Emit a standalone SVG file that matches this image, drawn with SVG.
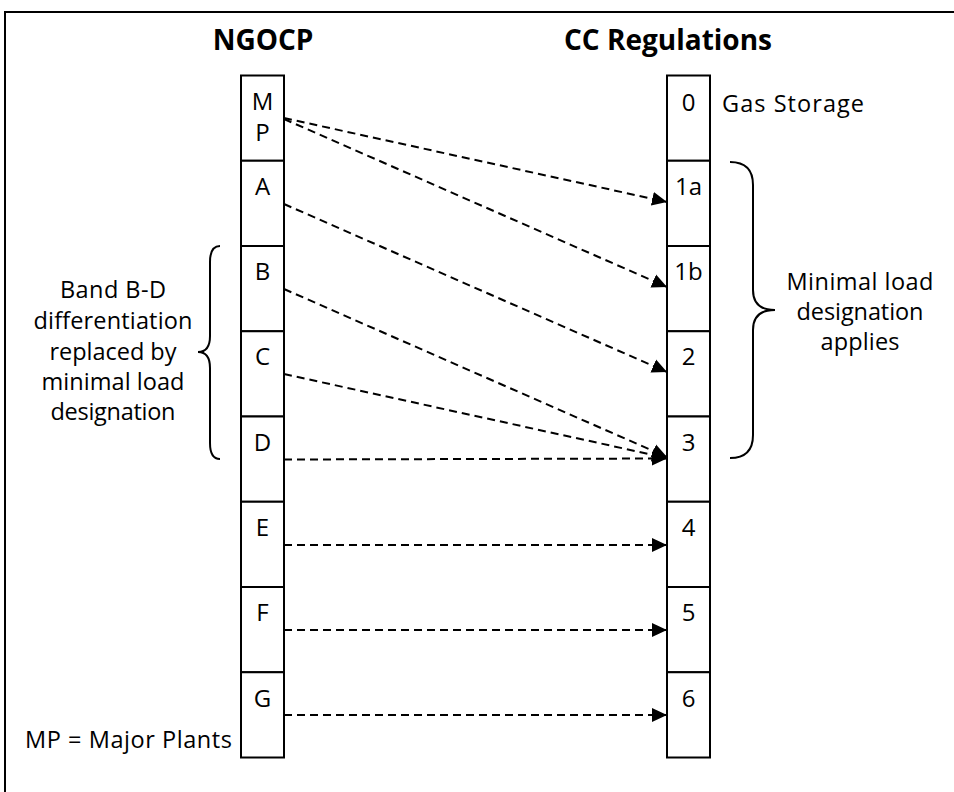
<svg xmlns="http://www.w3.org/2000/svg" width="954" height="792" viewBox="0 0 954 792">
<style>
text{font-family:"Open Sans","Noto Sans","Liberation Sans",sans-serif;fill:#000}
.title{font-size:28px;font-weight:bold;text-anchor:middle}
.lbl{font-size:24px;text-anchor:middle}
.note{font-size:23.5px}
.mid{text-anchor:middle}
.box{fill:#fff;stroke:#000;stroke-width:2}
.conn{fill:none;stroke:#000;stroke-width:2;stroke-dasharray:8 5}
.brace{fill:none;stroke:#000;stroke-width:2}
</style>
<defs>
<marker id="arr" markerUnits="userSpaceOnUse" markerWidth="16" markerHeight="16" viewBox="0 0 16 16" refX="15" refY="8" orient="auto">
<path d="M0,1 L15,8 L0,15 Z" fill="#000"/>
</marker>
</defs>
<rect x="0" y="0" width="954" height="792" fill="#fff"/>
<rect x="5" y="12" width="980" height="820" fill="none" stroke="#000" stroke-width="2"/>
<text class="title" x="263" y="50">NGOCP</text>
<text class="title" x="668" y="50">CC Regulations</text>
<g id="ngocp">
<g id="n-mp"><rect class="box" x="241" y="75.5" width="43" height="85.25"/><text class="lbl"><tspan x="262.5" y="110">M</tspan><tspan x="262.5" y="141">P</tspan></text></g>
<g id="n-a"><rect class="box" x="241" y="160.75" width="43" height="85.25"/><text class="lbl" x="262.5" y="195">A</text></g>
<g id="n-b"><rect class="box" x="241" y="246" width="43" height="85.25"/><text class="lbl" x="262.5" y="280">B</text></g>
<g id="n-c"><rect class="box" x="241" y="331.25" width="43" height="85.25"/><text class="lbl" x="262.5" y="365">C</text></g>
<g id="n-d"><rect class="box" x="241" y="416.5" width="43" height="85.25"/><text class="lbl" x="262.5" y="451">D</text></g>
<g id="n-e"><rect class="box" x="241" y="501.75" width="43" height="85.25"/><text class="lbl" x="262.5" y="536">E</text></g>
<g id="n-f"><rect class="box" x="241" y="587" width="43" height="85.25"/><text class="lbl" x="262.5" y="621">F</text></g>
<g id="n-g"><rect class="box" x="241" y="672.25" width="43" height="85.25"/><text class="lbl" x="262.5" y="707">G</text></g>
</g>
<g id="cc">
<g id="c-0"><rect class="box" x="667" y="75.5" width="43" height="85.25"/><text class="lbl" x="688.5" y="111">0</text></g>
<g id="c-1a"><rect class="box" x="667" y="160.75" width="43" height="85.25"/><text class="lbl" x="688.5" y="195">1a</text></g>
<g id="c-1b"><rect class="box" x="667" y="246" width="43" height="85.25"/><text class="lbl" x="688.5" y="280">1b</text></g>
<g id="c-2"><rect class="box" x="667" y="331.25" width="43" height="85.25"/><text class="lbl" x="688.5" y="365">2</text></g>
<g id="c-3"><rect class="box" x="667" y="416.5" width="43" height="85.25"/><text class="lbl" x="688.5" y="451">3</text></g>
<g id="c-4"><rect class="box" x="667" y="501.75" width="43" height="85.25"/><text class="lbl" x="688.5" y="536">4</text></g>
<g id="c-5"><rect class="box" x="667" y="587" width="43" height="85.25"/><text class="lbl" x="688.5" y="621">5</text></g>
<g id="c-6"><rect class="box" x="667" y="672.25" width="43" height="85.25"/><text class="lbl" x="688.5" y="707">6</text></g>
</g>
<g id="connectors">
<path class="conn" marker-end="url(#arr)" d="M284,118 L667,202"/>
<path class="conn" marker-end="url(#arr)" d="M284,119 L667,287"/>
<path class="conn" marker-end="url(#arr)" d="M284,204 L667,372"/>
<path class="conn" marker-end="url(#arr)" d="M284,289 L667,457"/>
<path class="conn" marker-end="url(#arr)" d="M284,374 L667,458"/>
<path class="conn" marker-end="url(#arr)" d="M284,459.5 L667,458.5"/>
<path class="conn" marker-end="url(#arr)" d="M284,545 L667,545"/>
<path class="conn" marker-end="url(#arr)" d="M284,630 L667,630"/>
<path class="conn" marker-end="url(#arr)" d="M284,715 L667,715"/>
</g>
<g id="brace-left">
<path class="brace" d="M220,246 Q210,246 210,262 L210,336 Q210,352 198,352 Q210,352 210,368 L210,443 Q210,459 220,459"/>
<text class="note mid" x="113" y="298" textLength="106" lengthAdjust="spacing">Band B-D</text>
<text class="note mid" x="113" y="329" textLength="159" lengthAdjust="spacing">differentiation</text>
<text class="note mid" x="113" y="360" textLength="127" lengthAdjust="spacing">replaced by</text>
<text class="note mid" x="113" y="390" textLength="143" lengthAdjust="spacing">minimal load</text>
<text class="note mid" x="113" y="420" textLength="125" lengthAdjust="spacing">designation</text>
</g>
<g id="brace-right">
<path class="brace" d="M730,162 Q753,162 753,185 L753,290 Q753,310 775,310 Q753,310 753,330 L753,435 Q753,458 730,458"/>
<text class="note mid" x="860" y="290" textLength="147" lengthAdjust="spacing">Minimal load</text>
<text class="note mid" x="860" y="320" textLength="127" lengthAdjust="spacing">designation</text>
<text class="note mid" x="860" y="350" textLength="79" lengthAdjust="spacing">applies</text>
</g>
<text class="note" x="722" y="112" textLength="142" lengthAdjust="spacing">Gas Storage</text>
<text class="note" x="25" y="748" textLength="207" lengthAdjust="spacing">MP = Major Plants</text>
</svg>
